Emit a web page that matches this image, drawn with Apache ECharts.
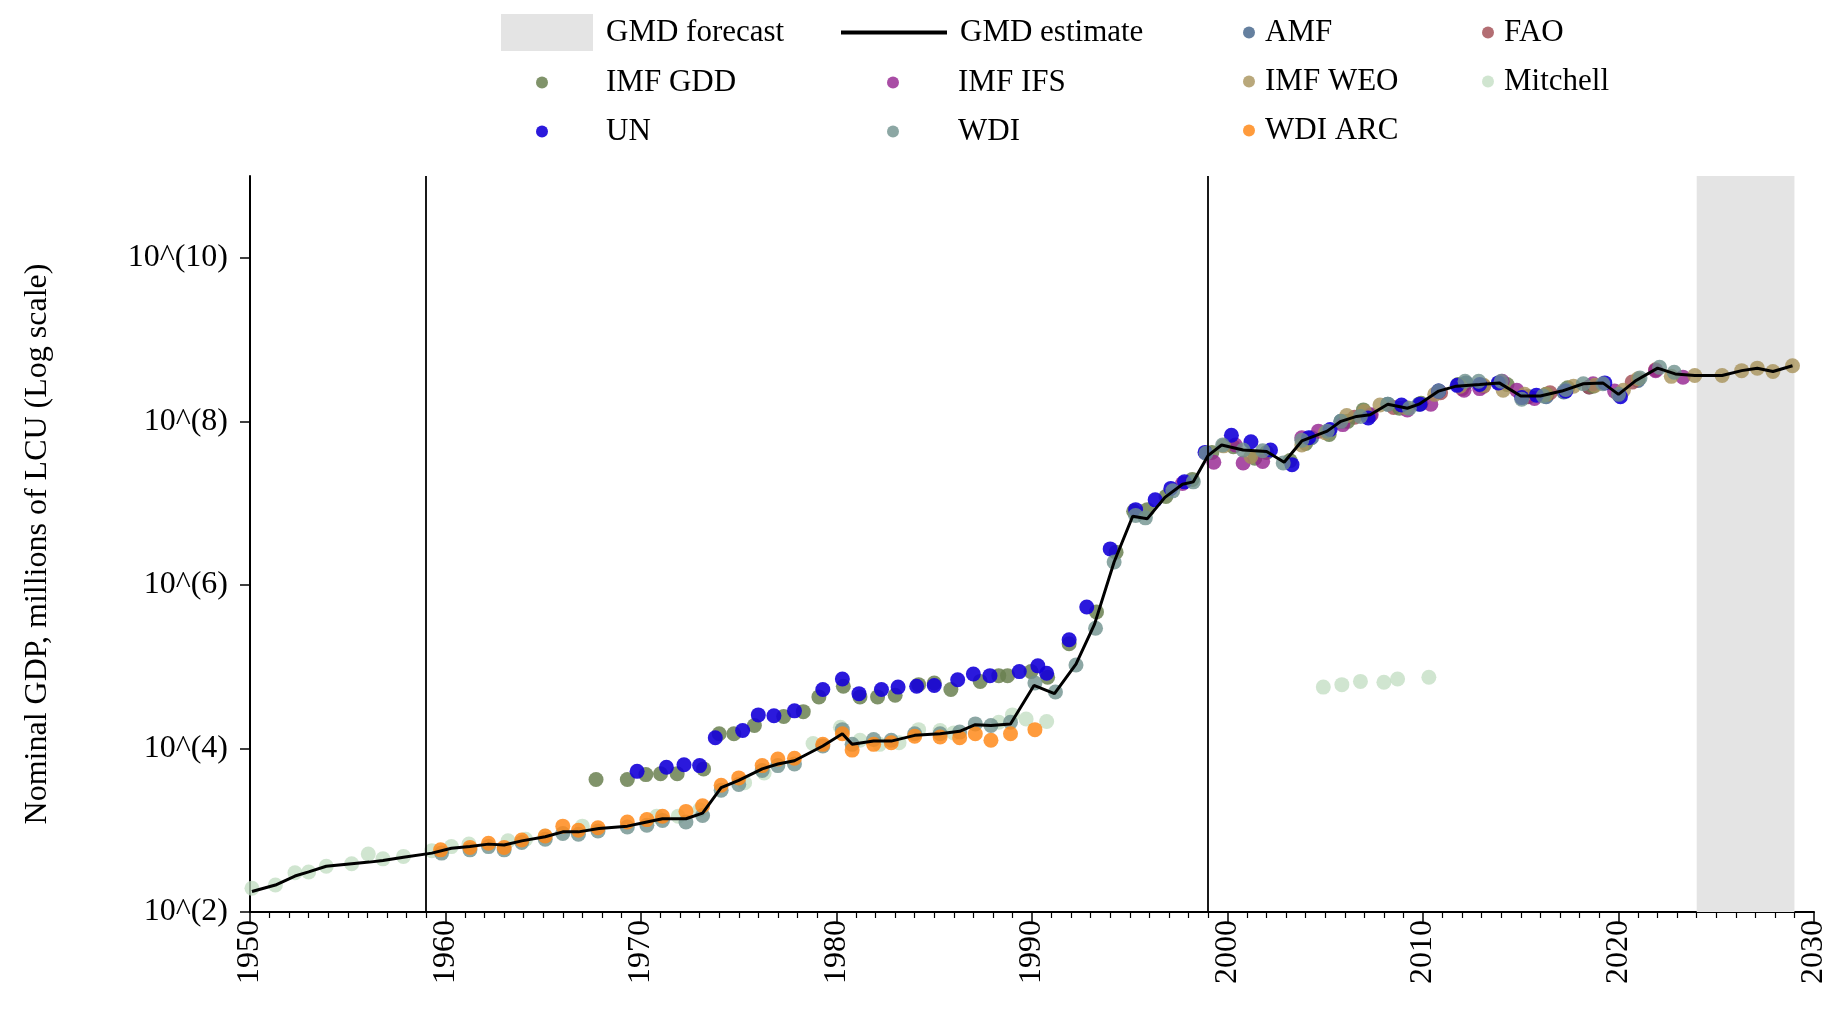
<!DOCTYPE html>
<html>
<head>
<meta charset="utf-8">
<title>Nominal GDP, millions of LCU</title>
<script src="https://cdn.jsdelivr.net/npm/echarts@6/dist/echarts.min.js"></script>
<style>
  html, body { margin: 0; padding: 0; background: #fff; }
  #chart { width: 1837px; height: 1017px; }
</style>
</head>
<body>
<div id="chart"></div>
<script>
// points are [year, log10(GDP)]; the years are jittered a bit in the original
const gmdEstimate = [
  [1950.1, 2.25], [1951.3, 2.33], [1952.3, 2.44], [1953.0, 2.49], [1953.9, 2.56], [1955.2, 2.59],
  [1956.1, 2.61], [1956.8, 2.63], [1957.85, 2.67], [1959.3, 2.72], [1960.3, 2.78], [1961.25, 2.80],
  [1962.2, 2.83], [1963.0, 2.82], [1963.9, 2.87], [1965.1, 2.92], [1966.0, 2.98], [1966.8, 2.98],
  [1967.85, 3.02], [1969.3, 3.05], [1970.3, 3.10], [1971.1, 3.14], [1972.3, 3.14], [1973.15, 3.21],
  [1974.1, 3.52], [1975.0, 3.61], [1976.2, 3.75], [1977.0, 3.81], [1977.85, 3.85], [1979.3, 4.03],
  [1980.3, 4.18], [1980.8, 4.05], [1981.9, 4.09], [1982.8, 4.09], [1984.0, 4.16], [1985.3, 4.18],
  [1986.3, 4.21], [1987.1, 4.29], [1987.9, 4.28], [1988.9, 4.30], [1990.1, 4.77], [1991.15, 4.67],
  [1992.25, 5.03], [1993.2, 5.52], [1994.2, 6.28], [1995.15, 6.84], [1995.9, 6.81], [1996.8, 7.07],
  [1997.7, 7.23], [1998.25, 7.26], [1999.0, 7.58], [1999.7, 7.71], [2000.8, 7.65], [2002.0, 7.63],
  [2002.9, 7.50], [2003.8, 7.76], [2005.1, 7.88], [2005.8, 8.00], [2006.6, 8.06], [2007.3, 8.08],
  [2008.2, 8.21], [2009.2, 8.16], [2009.8, 8.21], [2010.8, 8.37], [2011.7, 8.43], [2012.9, 8.45],
  [2013.9, 8.47], [2015.0, 8.31], [2016.0, 8.31], [2017.1, 8.37], [2018.2, 8.46], [2019.2, 8.47],
  [2020.0, 8.33], [2020.9, 8.50], [2022.0, 8.65], [2022.9, 8.58], [2023.9, 8.56], [2025.3, 8.56],
  [2026.3, 8.62], [2027.1, 8.65], [2027.9, 8.61], [2028.9, 8.68]
];

const amf = [
  [2004.3, 7.80], [2005.8, 8.00], [2007.3, 8.07], [2008.2, 8.21], [2009.8, 8.21], [2010.8, 8.37],
  [2012.2, 8.47], [2013.9, 8.47], [2015.4, 8.30], [2016.3, 8.30], [2017.2, 8.36], [2018.5, 8.42],
  [2020.0, 8.33], [2021.0, 8.50]
];

const fao = [
  [2006.5, 8.05], [2008.5, 8.17], [2010.9, 8.35], [2012.0, 8.40], [2013.1, 8.43], [2015.3, 8.30],
  [2016.5, 8.35], [2018.5, 8.42], [2020.7, 8.48], [2021.9, 8.63]
];

const imfGdd = [
  [1967.7, 3.62], [1969.3, 3.62], [1970.25, 3.68], [1971.0, 3.69], [1971.85, 3.69], [1973.2, 3.75],
  [1974.0, 4.18], [1974.75, 4.18], [1975.8, 4.28], [1977.3, 4.39], [1978.3, 4.45], [1979.1, 4.63],
  [1980.35, 4.76], [1981.2, 4.63], [1982.1, 4.63], [1983.0, 4.65], [1984.2, 4.78], [1985.0, 4.80],
  [1985.85, 4.72], [1987.35, 4.82], [1988.3, 4.89], [1988.75, 4.89], [1989.95, 4.94], [1990.8, 4.87],
  [1991.9, 5.28], [1993.3, 5.67], [1994.3, 6.40], [1995.2, 6.90], [1995.9, 6.92], [1996.85, 7.08],
  [1998.2, 7.29], [1999.2, 7.62], [2000.3, 7.69], [2001.4, 7.55], [2002.0, 7.62], [2003.2, 7.52],
  [2004.0, 7.73], [2005.2, 7.84], [2006.15, 8.00], [2006.95, 8.14], [2008.8, 8.16], [2009.9, 8.22],
  [2011.8, 8.45], [2013.0, 8.44], [2014.3, 8.45], [2016.3, 8.33], [2017.4, 8.41], [2018.7, 8.43]
];

const imfIfs = [
  [1997.7, 7.24], [1999.3, 7.50], [2000.4, 7.71], [2000.8, 7.49], [2001.8, 7.51], [2003.8, 7.80],
  [2004.65, 7.88], [2005.9, 7.96], [2007.35, 8.08], [2009.2, 8.14], [2010.4, 8.21], [2012.1, 8.38],
  [2012.9, 8.40], [2014.05, 8.49], [2014.8, 8.38], [2015.7, 8.28], [2018.7, 8.46], [2019.8, 8.37],
  [2021.9, 8.62], [2023.3, 8.54]
];

const imfWeo = [
  [1999.8, 7.70], [2001.2, 7.57], [2003.8, 7.71], [2005.0, 7.86], [2006.1, 8.07], [2007.0, 8.12],
  [2007.8, 8.20], [2009.1, 8.17], [2010.6, 8.33], [2011.9, 8.43], [2013.1, 8.44], [2014.1, 8.38],
  [2015.2, 8.33], [2016.3, 8.33], [2017.7, 8.43], [2018.8, 8.44], [2020.25, 8.38], [2021.0, 8.52],
  [2022.7, 8.55], [2023.9, 8.56], [2025.3, 8.56], [2026.3, 8.62], [2027.1, 8.65], [2027.9, 8.61],
  [2028.9, 8.68]
];

const mitchell = [
  [1950.1, 2.29], [1951.3, 2.33], [1952.3, 2.48], [1953.0, 2.49], [1953.9, 2.56], [1955.2, 2.59],
  [1956.05, 2.71], [1956.8, 2.65], [1957.85, 2.68], [1959.3, 2.75], [1960.3, 2.80], [1961.2, 2.83],
  [1963.2, 2.87], [1964.1, 2.89], [1965.1, 2.93], [1967.0, 3.05], [1970.8, 3.17], [1971.9, 3.17],
  [1973.0, 3.25], [1975.3, 3.58], [1976.3, 3.70], [1978.8, 4.06], [1980.2, 4.26], [1981.2, 4.10],
  [1982.2, 4.05], [1983.2, 4.07], [1984.2, 4.23], [1985.3, 4.22], [1986.0, 4.19], [1988.3, 4.32],
  [1989.0, 4.41], [1989.7, 4.36], [1990.75, 4.33],
  [2004.9, 4.75], [2005.85, 4.78], [2006.8, 4.82], [2008.0, 4.81], [2008.7, 4.85], [2010.3, 4.87]
];

const un = [
  [1969.8, 3.72], [1971.3, 3.77], [1972.2, 3.80], [1973.0, 3.79], [1973.8, 4.13], [1975.2, 4.22],
  [1976.0, 4.41], [1976.8, 4.40], [1977.85, 4.46], [1979.3, 4.72], [1980.3, 4.85], [1981.15, 4.67],
  [1982.3, 4.72], [1983.15, 4.75], [1984.1, 4.76], [1985.0, 4.77], [1986.2, 4.84], [1987.0, 4.91],
  [1987.85, 4.89], [1989.35, 4.94], [1990.3, 5.01], [1990.75, 4.92], [1991.9, 5.33], [1992.8, 5.73],
  [1994.0, 6.44], [1995.3, 6.92], [1996.3, 7.04], [1997.1, 7.18], [1997.8, 7.26], [1998.85, 7.62],
  [2000.2, 7.83], [2001.2, 7.75], [2002.2, 7.65], [2003.3, 7.47], [2004.15, 7.80], [2005.25, 7.90],
  [2007.2, 8.04], [2008.9, 8.20], [2009.85, 8.21], [2010.8, 8.37], [2011.75, 8.44], [2012.9, 8.45],
  [2013.85, 8.47], [2015.05, 8.29], [2015.8, 8.32], [2017.3, 8.37], [2019.3, 8.47], [2020.1, 8.30]
];

const wdi = [
  [1959.8, 2.72], [1961.25, 2.76], [1962.2, 2.80], [1963.0, 2.76], [1963.9, 2.85], [1965.1, 2.89],
  [1966.0, 2.96], [1966.8, 2.95], [1967.8, 2.99], [1969.3, 3.04], [1970.3, 3.06], [1971.1, 3.12],
  [1972.3, 3.10], [1973.15, 3.18], [1974.1, 3.49], [1975.0, 3.56], [1976.2, 3.73], [1977.0, 3.79],
  [1977.85, 3.81], [1979.3, 4.03], [1980.3, 4.23], [1980.8, 4.05], [1981.9, 4.11], [1982.8, 4.10],
  [1984.0, 4.18], [1985.3, 4.18], [1986.3, 4.20], [1987.1, 4.30], [1987.9, 4.28], [1988.9, 4.32],
  [1990.15, 4.80], [1991.2, 4.69], [1992.25, 5.02], [1993.25, 5.47], [1994.2, 6.28], [1995.3, 6.85],
  [1995.8, 6.82], [1997.2, 7.15], [1998.25, 7.26], [1998.9, 7.61], [1999.75, 7.71], [2000.8, 7.65],
  [2001.8, 7.64], [2002.85, 7.49], [2003.8, 7.77], [2005.1, 7.88], [2005.8, 8.00], [2006.8, 8.06],
  [2008.2, 8.21], [2009.3, 8.16], [2010.8, 8.37], [2012.15, 8.49], [2012.85, 8.49], [2014.0, 8.49],
  [2015.05, 8.27], [2016.15, 8.31], [2017.3, 8.39], [2018.2, 8.46], [2019.2, 8.46], [2020.0, 8.33],
  [2021.1, 8.53], [2022.1, 8.66], [2022.85, 8.60]
];

const wdiArc = [
  [1959.75, 2.76], [1961.25, 2.79], [1962.2, 2.84], [1963.0, 2.79], [1963.9, 2.88], [1965.1, 2.93],
  [1966.0, 3.05], [1966.8, 3.00], [1967.8, 3.03], [1969.3, 3.10], [1970.3, 3.13], [1971.1, 3.17],
  [1972.3, 3.23], [1973.15, 3.30], [1974.1, 3.55], [1975.0, 3.64], [1976.2, 3.79], [1977.0, 3.87],
  [1977.85, 3.88], [1979.3, 4.05], [1980.3, 4.18], [1980.8, 3.98], [1981.9, 4.05], [1982.8, 4.07],
  [1984.0, 4.15], [1985.3, 4.14], [1986.3, 4.13], [1987.1, 4.18], [1987.9, 4.10], [1988.9, 4.18],
  [1990.15, 4.23]
];

const baseYears = [1959, 1999];
const forecastYears = [2024, 2029];
const yTickExps = [2, 4, 6, 8, 10];

const font = "'Liberation Serif', 'Times New Roman', serif";

// log10 -> actual value for the log axis
const toPoints = (pts) => pts.map(p => [p[0], Math.pow(10, p[1])]);

function dots(name, pts, color, opacity) {
  return {
    name: name,
    type: 'scatter',
    symbol: 'circle',
    symbolSize: 15,
    itemStyle: { color: color, opacity: opacity },
    data: toPoints(pts)
  };
}

function legendBlock(names, left, top, w, h, padLeft) {
  return {
    orient: 'vertical',
    left: left,
    top: top,
    itemWidth: w,
    itemHeight: h,
    itemGap: 18,
    padding: 0,
    selectedMode: false,
    data: names,
    lineStyle: { width: 4 },
    textStyle: { fontFamily: font, fontSize: 31, color: '#000', lineHeight: 31, padding: [0, 0, 0, padLeft] }
  };
}

const axisText = { fontFamily: font, fontSize: 32, color: '#000' };

const chart = echarts.init(document.getElementById('chart'));

chart.setOption({
  animation: false,
  backgroundColor: '#fff',
  legend: [
    legendBlock([{ name: 'GMD forecast', icon: 'rect' }], 501, 14, 92, 37, 8),
    legendBlock(['IMF GDD', 'UN'], 536, 67, 12, 12, 53),
    legendBlock(['GMD estimate'], 839, 17, 106, 4, 8),
    legendBlock(['IMF IFS', 'WDI'], 887, 67, 12, 12, 54),
    legendBlock(['AMF', 'IMF WEO', 'WDI ARC'], 1243, 17, 12, 12, 5),
    legendBlock(['FAO', 'Mitchell'], 1482, 17, 12, 12, 5)
  ],
  grid: { left: 250, right: 23, top: 176, bottom: 105 },
  xAxis: {
    type: 'value',
    min: 1950,
    max: 2030,
    interval: 10,
    splitLine: { show: false },
    axisLine: { lineStyle: { color: '#000', width: 2 } },
    axisTick: { length: 12, lineStyle: { color: '#000', width: 1.5 } },
    minorTick: { show: true, splitNumber: 10, length: 6, lineStyle: { color: '#000', width: 1.2 } },
    axisLabel: Object.assign({ rotate: 90, margin: 8, formatter: v => String(v) }, axisText)
  },
  yAxis: {
    type: 'log',
    logBase: 10,
    min: 1e2,
    max: 1e11,
    name: 'Nominal GDP, millions of LCU (Log scale)',
    nameLocation: 'middle',
    nameGap: 196,
    nameTextStyle: axisText,
    splitLine: { show: false },
    axisLine: { show: true, lineStyle: { color: '#000', width: 2 } },
    axisTick: {
      length: 10,
      lineStyle: { color: '#000', width: 1.5 },
      customValues: yTickExps.map(e => Math.pow(10, e))
    },
    axisLabel: Object.assign({
      margin: 22,
      customValues: yTickExps.map(e => Math.pow(10, e)),
      formatter: v => '10^(' + Math.round(Math.log10(v)) + ')'
    }, axisText)
  },
  series: [
    {
      name: 'GMD forecast',
      type: 'line',
      z: 1,
      data: [],
      itemStyle: { color: '#e4e4e4' },
      lineStyle: { color: '#e4e4e4' },
      markArea: {
        silent: true,
        itemStyle: { color: '#e4e4e4' },
        data: [[{ xAxis: forecastYears[0] }, { xAxis: forecastYears[1] }]]
      }
    },
    dots('Mitchell', mitchell, '#c0dcc0', 0.75),
    {
      name: 'GMD estimate',
      type: 'line',
      symbol: 'none',
      data: toPoints(gmdEstimate),
      itemStyle: { color: '#000' },
      lineStyle: { color: '#000', width: 3 },
      markLine: {
        silent: true,
        symbol: ['none', 'none'],
        label: { show: false },
        lineStyle: { color: '#000', width: 1.8, type: 'solid' },
        data: baseYears.map(y => ({ xAxis: y }))
      }
    },
    dots('AMF', amf, '#4a6a8e', 0.85),
    dots('FAO', fao, '#a04a50', 0.8),
    dots('IMF GDD', imfGdd, '#6a8050', 0.85),
    dots('IMF IFS', imfIfs, '#93208f', 0.8),
    dots('IMF WEO', imfWeo, '#a8925a', 0.8),
    dots('UN', un, '#1400d8', 0.9),
    dots('WDI', wdi, '#6f918d', 0.8),
    dots('WDI ARC', wdiArc, '#ff8a1a', 0.85)
  ]
});
</script>
</body>
</html>
